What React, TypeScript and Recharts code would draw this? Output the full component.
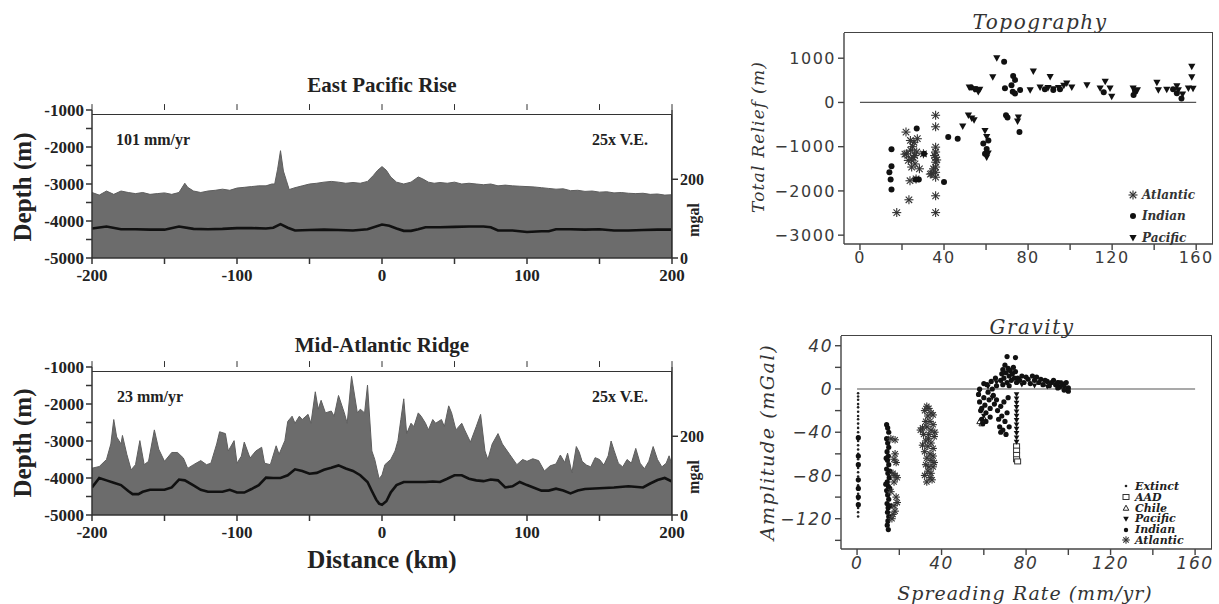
import React from "react";
import {
  Area,
  ComposedChart,
  Line,
  ReferenceLine,
  Scatter,
  ScatterChart,
  XAxis,
  YAxis,
} from "recharts";

// ---- East Pacific Rise profile (km, m) ----
const eprDist = [
  -200, -195, -190, -185, -180, -175, -170, -165, -160, -155, -150, -145, -140, -136, -134, -130, -125, -120, -115,
  -110, -105, -100, -95, -90, -85, -80, -76, -74, -72, -70, -68, -66, -64, -60, -55, -50, -45, -40, -35, -30, -25,
  -20, -15, -10, -6, -3, 0, 3, 6, 10, 15, 20, 25, 28, 32, 36, 40, 45, 50, 55, 60, 65, 70, 75, 80, 85, 90, 95, 100,
  105, 110, 115, 120, 125, 130, 135, 140, 145, 150, 155, 160, 165, 170, 175, 180, 185, 190, 195, 200,
];
const eprDepth = [
  -3230, -3300, -3190, -3280, -3190, -3230, -3260, -3230, -3280, -3260, -3240, -3280, -3230, -2980, -3090, -3190,
  -3230, -3190, -3170, -3140, -3170, -3110, -3090, -3070, -3050, -3050, -3000, -3000, -2600, -2100, -2650, -2900,
  -3150, -3100, -3050, -3000, -2980, -2950, -2930, -2950, -2980, -2960, -2980, -2930, -2770, -2630, -2530, -2630,
  -2810, -2950, -3000, -2950, -2810, -2860, -2950, -2980, -2960, -2980, -2950, -3000, -2980, -3000, -3020, -3000,
  -3050, -3030, -3050, -3060, -3070, -3080, -3100, -3120, -3140, -3130, -3180, -3170, -3200, -3190, -3220, -3210,
  -3240, -3230, -3250, -3260, -3250, -3280, -3270, -3300, -3290,
];
// gravity line (mgal, right axis)
const eprGravDist = [
  -200, -190, -180, -170, -160, -150, -140, -130, -120, -110, -100, -90, -80, -75, -70, -65, -60, -50, -40, -30, -20,
  -10, 0, 5, 10, 15, 20, 25, 30, 40, 50, 60, 70, 75, 80, 90, 100, 110, 115, 120, 130, 140, 150, 160, 170, 180, 190,
  200,
];
const eprGrav = [
  75, 80, 73, 73, 72, 72, 80, 74, 73, 74, 76, 76, 75, 77, 86, 77, 70, 71, 72, 71, 70, 73, 85, 82, 75, 69, 69, 73, 78,
  78, 79, 80, 80, 78, 70, 70, 66, 68, 68, 73, 73, 72, 73, 70, 70, 71, 72, 72,
];

// ---- Mid-Atlantic Ridge profile ----
const marDist = [
  -200, -195, -190, -187, -185, -183, -180, -179, -176, -173, -170, -167, -164, -161, -157, -154, -150, -145, -141,
  -137, -134, -130, -125, -121, -118, -114, -112, -108, -106, -102, -100, -97, -95, -91, -87, -83, -81, -77, -73,
  -71, -67, -65, -62, -60, -57, -55, -51, -49, -46, -44, -42, -39, -35, -33, -30, -26, -24, -21, -17, -15, -12, -10,
  -7, -5, -2, 0, 2, 6, 9, 11, 13, 15, 17, 20, 22, 25, 27, 30, 32, 35, 37, 41, 43, 46, 48, 51, 55, 57, 61, 65, 68, 71,
  73, 76, 80, 83, 88, 93, 97, 100, 104, 108, 112, 116, 120, 123, 126, 128, 131, 134, 136, 138, 141, 144, 147, 150,
  153, 156, 158, 160, 163, 166, 169, 172, 175, 178, 181, 184, 187, 190, 193, 196, 198, 200,
];
const marDepth = [
  -3735, -3690, -3500, -3080, -2420, -2890, -3080, -2850, -3360, -3780, -3640, -2990, -3640, -3550, -2700, -3220,
  -3550, -3310, -3310, -3460, -3740, -3640, -3530, -3640, -3600, -3080, -2750, -2800, -3270, -2990, -3600, -3410,
  -3030, -3460, -3270, -3170, -3600, -3640, -3130, -3360, -2990, -2470, -2330, -2520, -2330, -2420, -2280, -2520,
  -1670, -2140, -1900, -2240, -2190, -2330, -1770, -2240, -2520, -1250, -2240, -2140, -2240, -1490, -3270, -3500,
  -4020, -3920, -3640, -3500, -3270, -2990, -2420, -1860, -2800, -2520, -2610, -2240, -2330, -2520, -2700, -2420,
  -2520, -2420, -2610, -2050, -2240, -2700, -2520, -2700, -3030, -2610, -2280, -3270, -3500, -3080, -2800, -3080,
  -3360, -3640, -3500, -3550, -3480, -3530, -3810, -3670, -3620, -3380, -3580, -3330, -3860, -3150, -3300, -3550,
  -3650, -3700, -3450, -3500, -3650, -3400, -3000, -3250, -3600, -3700, -3500, -3600, -3200, -3600, -3750, -3550,
  -3150, -3500, -3700, -3600, -3400, -3650,
];
const marGravDist = [
  -200, -195, -190, -185, -180, -175, -172, -168, -165, -160, -150, -145, -140, -136, -130, -125, -120, -110, -105,
  -100, -95, -90, -85, -80, -75, -70, -65, -60, -55, -50, -45, -40, -35, -30, -25, -20, -15, -10, -7, -4, -2, 0, 3,
  6, 10, 15, 20, 30, 35, 40, 45, 50, 55, 60, 65, 70, 75, 80, 85, 90, 95, 100, 110, 115, 120, 125, 130, 135, 140, 150,
  160, 170, 180, 185, 190, 195, 200,
];
const marGrav = [
  70, 94, 88, 82, 76, 61, 53, 53, 59, 64, 64, 70, 90, 88, 75, 64, 59, 59, 64, 57, 57, 66, 76, 95, 94, 94, 101, 116,
  112, 105, 107, 115, 120, 126, 118, 112, 101, 84, 61, 39, 29, 26, 35, 57, 76, 84, 84, 84, 85, 84, 92, 101, 101, 92,
  88, 86, 90, 88, 70, 73, 84, 76, 62, 62, 67, 62, 55, 62, 66, 68, 70, 73, 70, 80, 89, 94, 85,
];

// ---- Topography vs spreading rate (mm/yr, m) ----
const topoAtlantic: [number, number][] = [
  [17.5, -2490], [23.3, -2200], [21.9, -670], [24, -860], [25.7, -900], [27.3, -820], [22.2, -1160], [24.1, -1080],
  [25.4, -1240], [27, -1120], [23, -1310], [26.2, -1390], [24.6, -1460], [28.3, -1500], [23.8, -1770], [26.7, -1730],
  [21.4, -1170], [25, -1000], [26, -1200], [24.5, -1300], [30.2, -1160], [36, -290], [36, -550], [36, -1010],
  [36, -1120], [36, -1240], [36, -1350], [36, -1460], [36, -1580], [36, -1690], [36, -2110], [36, -2490],
  [34.1, -1610], [35, -1500], [36.5, -1300], [35.5, -1200], [33.5, -1620],
];
const topoIndian: [number, number][] = [
  [15, -1060], [15, -1440], [14, -1580], [14.6, -1740], [15, -1970], [27, -590], [28, -1740], [26.5, -1740],
  [30.5, -1160], [40, -1800], [42, -780], [46.5, -820], [52.9, 340], [55, 300], [58.7, -930], [60.3, -1050],
  [61.1, -860], [59.5, -1160], [68.6, 920], [69, 320], [69.5, -290], [70.2, -340], [72.9, 600], [73.8, 510],
  [72.1, 390], [72.7, 240], [73.8, 200], [76.2, 280], [75.9, -670], [88, 300], [92, 280], [95.2, 300], [116, 230],
  [130.2, 170], [131, 250], [150.8, 210], [153, 90], [149, 300],
];
const topoPacific: [number, number][] = [
  [48.9, -540], [51.6, -290], [53.2, -360], [54.3, -400], [52, 340], [54.5, 300], [56.3, 240], [57, 290],
  [59.5, -640], [60.3, -780], [60.3, -1240], [61, -1150], [63.2, 570], [65.1, 1000], [75.4, -340], [75, -430],
  [82.5, 700], [81, 280], [85.7, 340], [90.5, 580], [89.5, 330], [92, 300], [94.5, 330], [97, 380], [98.4, 430],
  [100.8, 340], [108, 390], [114.3, 320], [116.7, 470], [119, 320], [119.8, 130], [130, 320], [131, 220], [132, 280],
  [141.3, 450], [142, 280], [146, 290], [150.8, 370], [151.5, 280], [153.5, 180], [156.3, 320], [157.9, 810],
  [157.9, 570], [158.5, 310],
];

// ---- Gravity vs spreading rate (mm/yr, mGal) ----
const gravExtinct: [number, number][] = [
  [0.5, -4], [0.5, -7], [0.5, -10], [0.5, -14], [0.5, -17], [0.5, -21], [0.5, -25], [0.5, -28], [0.5, -32],
  [0.5, -36], [0.5, -40], [0.5, -44], [0.5, -48], [0.5, -52], [0.5, -56], [0.5, -60], [0.5, -65], [0.5, -69],
  [0.5, -73], [0.5, -77], [0.5, -81], [0.5, -85], [0.5, -89], [0.5, -93], [0.5, -97], [0.5, -102], [0.5, -106],
  [0.5, -110], [0.5, -114], [0.5, -118],
];
const gravAAD: [number, number][] = [[75.5, -53], [75.5, -57], [75.5, -61], [75.5, -65], [76, -67]];
const gravChile: [number, number][] = [[58, -30], [59, -32], [60, -27]];
const gravPacific: [number, number][] = [
  [75.5, -5], [75.5, -9], [75.5, -13], [75.5, -17], [75.5, -21], [75.5, -25], [75.5, -29], [75.5, -33],
  [75.5, -37], [75.5, -41], [75.5, -45], [75.5, -49], [58, -2], [60, -25], [62, 2], [64, -8], [66, 6], [78, 4],
  [84, 3], [90, 2], [96, 6],
];
const gravIndian: [number, number][] = [
  [0.6, -45], [0.6, -62], [0.6, -70], [0.6, -84], [0.6, -92], [0.6, -100], [0.6, -107],
  [14, -33], [14.5, -36], [15, -40], [14, -46], [14.5, -50], [15, -54], [14.2, -58], [14.8, -62], [14.4, -66],
  [15, -70], [14, -74], [14.6, -78], [15.2, -82], [14.3, -86], [14.8, -90], [14, -94], [14.5, -98], [15, -102],
  [14.2, -106], [14.7, -110], [14.4, -114], [15, -118], [14.6, -122], [14.3, -126], [14.8, -130], [15.5, -76],
  [15.5, -92], [13.6, -88], [13.8, -64], [15.6, -108],
  [57.5, -5], [58, -12], [58.5, -20], [59, -28], [59.5, -32], [58, 0], [60, -8], [60.5, -15], [61, -22], [61.5, 4],
  [62, -3], [62.5, -10], [63, -18], [63.5, 7], [64, 0], [64.5, -6], [65, -14], [65.5, 10], [66, 3], [60, 5],
  [59, -18], [63, -26], [61, -30],
  [66.5, -20], [67, -28], [67.5, -35], [68, -16], [68.5, -25], [69, -38], [69.5, -12], [70, -30], [70.5, -42],
  [71, -22], [71.5, -8], [72, -35], [66, -10], [68, -40],
  [68, 8], [68.5, 14], [69, 18], [69.5, 10], [70, 22], [70.5, 15], [71, 6], [71.5, 19], [72, 12], [72.5, 17],
  [73, 8], [73.5, 14], [74, 20], [74.5, 10], [75, 16], [75.5, 6], [71, 30], [75, 29], [69, 4], [72, 3],
  [76, 10], [77, 8], [78, 12], [79, 6], [80, 11], [81, 9], [82, 5], [83, 12], [84, 8], [85, 11], [86, 6], [87, 9],
  [88, 4], [89, 8], [90, 7], [91, 3], [92, 6], [93, 8], [94, 4], [95, 6], [96, 2], [97, 5], [98, 3], [99, 6],
  [100, 1], [100, -2], [98, -1], [95, 1],
];
const gravAtlantic: [number, number][] = [
  [16, -46], [18, -47], [18, -60], [17.5, -65], [18.5, -68], [17, -78], [18, -80], [19, -82], [17.5, -86],
  [18.5, -100], [19, -105], [17.5, -108], [18, -113], [17, -116], [16.5, -120], [16, -95],
  [30, -38], [31, -36], [32, -20], [33, -16], [34, -18], [35, -22], [36, -24], [33.5, -25], [32.5, -30], [34.5, -30],
  [36, -33], [33, -35], [35, -38], [31.5, -42], [34, -42], [36.5, -44], [32.5, -48], [35, -50], [33.5, -53],
  [36, -55], [32, -58], [34.5, -60], [36, -62], [33, -64], [35, -66], [32.5, -70], [34, -72], [36, -72],
  [33.5, -76], [35, -78], [32, -80], [34.5, -82], [33, -86], [35.5, -84], [36.5, -68], [31, -52], [36.8, -40],
  [33.8, -46],
];

const profileTicks = [-200, -150, -100, -50, 0, 50, 100, 150, 200];
const depthTicks = [-5000, -4500, -4000, -3500, -3000, -2500, -2000, -1500, -1000];
const rateTicks = [0, 20, 40, 60, 80, 100, 120, 140, 160];
const reliefTicks = [-3000, -2000, -1000, 0, 1000];
const ampTicks = [-140, -120, -100, -80, -60, -40, -20, 0, 20, 40];

const mergeProfile = (d: number[], z: number[], gd: number[], g: number[]) => {
  const rows = new Map<number, any>();
  d.forEach((x, i) => rows.set(x, { x, depth: z[i] }));
  gd.forEach((x, i) => {
    const r = rows.get(x) || { x };
    r.grav = g[i];
    rows.set(x, r);
  });
  return [...rows.values()].sort((a, b) => a.x - b.x);
};
const toPts = (a: [number, number][]) => a.map(([x, y]) => ({ x, y }));

const serif = "'Liberation Serif', 'Times New Roman', serif";
const hershey = "'DejaVu Serif', serif";
const numFont = "'DejaVu Sans', sans-serif";

// ---- markers ----
const Star = ({ cx, cy, r = 4 }: any) => {
  const d = r * 0.72;
  return (
    <g stroke="#333" strokeWidth={1.1}>
      <line x1={cx - r} y1={cy} x2={cx + r} y2={cy} />
      <line x1={cx} y1={cy - r} x2={cx} y2={cy + r} />
      <line x1={cx - d} y1={cy - d} x2={cx + d} y2={cy + d} />
      <line x1={cx - d} y1={cy + d} x2={cx + d} y2={cy - d} />
    </g>
  );
};
const Dot = ({ cx, cy, r = 3 }: any) => <circle cx={cx} cy={cy} r={r} fill="#111" />;
const TriDown = ({ cx, cy, r = 3.6 }: any) => (
  <path d={`M${cx - r},${cy - r * 0.8} L${cx + r},${cy - r * 0.8} L${cx},${cy + r} Z`} fill="#111" />
);
const TriUp = ({ cx, cy, r = 2.8 }: any) => (
  <path d={`M${cx - r},${cy + r * 0.8} L${cx + r},${cy + r * 0.8} L${cx},${cy - r} Z`} fill="none" stroke="#222" />
);
const Square = ({ cx, cy }: any) => (
  <rect x={cx - 3} y={cy - 2.5} width={6} height={5} fill="#fff" stroke="#333" strokeWidth={1} />
);
const Tiny = ({ cx, cy }: any) => <circle cx={cx} cy={cy} r={1.3} fill="#222" />;

const minus = (v: number) => (v < 0 ? "\u2212" + Math.abs(v) : String(v));

const Txt = ({ x, y, children, style, rotate }: any) => (
  <div
    style={{
      position: "absolute",
      left: x,
      top: y,
      transform: `translate(-50%, -50%)${rotate ? " rotate(-90deg)" : ""}`,
      whiteSpace: "nowrap",
      lineHeight: 1,
      ...style,
    }}
  >
    {children}
  </div>
);

// top + right border of a plot box
const Frame = ({ left, top, width, height, color }: any) => (
  <div
    style={{
      position: "absolute",
      left,
      top: top - 1,
      width: width - 1,
      height,
      borderTop: `1.5px solid ${color}`,
      borderRight: `1.5px solid ${color}`,
      pointerEvents: "none",
    }}
  />
);

const boldStyle = { fontFamily: serif, fontWeight: 700, color: "#222" };
const italicStyle = { fontFamily: hershey, fontStyle: "italic", color: "#333" };

const ProfilePanel = ({ top, height, data, mtop, mbottom }: any) => {
  const tickStyle = { fontFamily: serif, fontWeight: 700, fontSize: 17, fill: "#222" };
  return (
    <div style={{ position: "absolute", left: 0, top }}>
      <ComposedChart
        width={720}
        height={height}
        data={data}
        margin={{ top: mtop, right: 8, bottom: mbottom, left: 12 }}
      >
        <XAxis
          type="number"
          dataKey="x"
          domain={[-200, 200]}
          ticks={profileTicks}
          tickFormatter={(v: number) => (v % 100 === 0 ? String(v) : "")}
          tick={tickStyle}
          tickMargin={5}
          stroke="#333"
          strokeWidth={1.5}
          height={30}
          allowDataOverflow
        />
        <YAxis
          yAxisId="left"
          type="number"
          domain={[-5000, -1000]}
          ticks={depthTicks}
          tickFormatter={(v: number) => (v % 1000 === 0 ? String(v) : "")}
          tick={tickStyle}
          stroke="#333"
          strokeWidth={1.5}
          width={80}
          allowDataOverflow
        />
        <YAxis
          yAxisId="right"
          orientation="right"
          type="number"
          domain={[0, 376]}
          ticks={[0, 200]}
          tick={{ ...tickStyle, fontSize: 16 }}
          stroke="#333"
          strokeWidth={1.5}
          width={40}
          allowDataOverflow
        />
        <Area
          yAxisId="left"
          dataKey="depth"
          type="linear"
          baseValue={-5000}
          fill="#6c6c6c"
          fillOpacity={1}
          stroke="#5e5e5e"
          strokeWidth={1}
          connectNulls
          isAnimationActive={false}
        />
        <Line
          yAxisId="right"
          dataKey="grav"
          type="linear"
          stroke="#111"
          strokeWidth={2.6}
          dot={false}
          connectNulls
          isAnimationActive={false}
        />
        {profileTicks.map((t) => (
          <ReferenceLine
            key={t}
            yAxisId="left"
            segment={[{ x: t, y: -1000 }, { x: t, y: -840 }]}
            stroke="#333"
            strokeWidth={1}
            ifOverflow="visible"
          />
        ))}
      </ComposedChart>
    </div>
  );
};

const LegendRow = ({ Icon, label, size }: any) => (
  <div style={{ display: "flex", alignItems: "center", height: size + 0.5 }}>
    <svg width={12} height={12} style={{ marginRight: 3 }}>
      <Icon cx={6} cy={6} />
    </svg>
    <span>{label}</span>
  </div>
);

export default function App() {
  const eprRows = mergeProfile(eprDist, eprDepth, eprGravDist, eprGrav);
  const marRows = mergeProfile(marDist, marDepth, marGravDist, marGrav);
  const rTick = { fontFamily: numFont, fontSize: 16, fill: "#3a3a3a", letterSpacing: 1.5 };
  const gTick = { ...rTick, fontStyle: "italic", fontSize: 17 };
  const topoX = [-7.6, 168];
  const topoY = [-3200, 1570];
  const gravY = [-148, 49];

  return (
    <div
      style={{
        position: "absolute",
        left: 0,
        top: 0,
        width: 1219,
        height: 604,
        background: "#fff",
        overflow: "hidden",
      }}
    >
      <ProfilePanel top={60} height={240} data={eprRows} mtop={50} mbottom={12} />
      <ProfilePanel top={320} height={270} data={marRows} mtop={47} mbottom={45} />
      <Frame left={92} top={115} width={580} height={143} color="#333" />
      <Frame left={92} top={372} width={580} height={143} color="#333" />

      <Txt x={382} y={85} style={{ ...boldStyle, fontSize: 21 }}>East Pacific Rise</Txt>
      <Txt x={382} y={345} style={{ ...boldStyle, fontSize: 21 }}>Mid-Atlantic Ridge</Txt>
      <Txt x={22} y={187} rotate style={{ ...boldStyle, fontSize: 25 }}>Depth (m)</Txt>
      <Txt x={22} y={443} rotate style={{ ...boldStyle, fontSize: 25 }}>Depth (m)</Txt>
      <Txt x={694} y={220} rotate style={{ ...boldStyle, fontSize: 16 }}>mgal</Txt>
      <Txt x={694} y={477} rotate style={{ ...boldStyle, fontSize: 16 }}>mgal</Txt>
      <Txt x={153} y={140} style={{ ...boldStyle, fontSize: 16 }}>101 mm/yr</Txt>
      <Txt x={620} y={140} style={{ ...boldStyle, fontSize: 16 }}>25x V.E.</Txt>
      <Txt x={150} y={397} style={{ ...boldStyle, fontSize: 16 }}>23 mm/yr</Txt>
      <Txt x={620} y={397} style={{ ...boldStyle, fontSize: 16 }}>25x V.E.</Txt>
      <Txt x={382} y={559} style={{ ...boldStyle, fontSize: 25 }}>Distance (km)</Txt>

      {/* Topography */}
      <div style={{ position: "absolute", left: 740, top: 0 }}>
        <ScatterChart width={477} height={280} margin={{ top: 33, right: 4, bottom: 6, left: 14 }}>
          <XAxis
            type="number"
            dataKey="x"
            domain={topoX}
            ticks={rateTicks}
            tickFormatter={(v: number) => (v % 40 === 0 ? String(v) : "")}
            tick={rTick}
            stroke="#444"
            strokeWidth={1.4}
            height={30}
            allowDataOverflow
          />
          <YAxis
            type="number"
            dataKey="y"
            domain={topoY}
            ticks={reliefTicks}
            tickFormatter={minus}
            tick={rTick}
            stroke="#444"
            strokeWidth={1.4}
            width={90}
            allowDataOverflow
          />
          <ReferenceLine segment={[{ x: 0, y: 0 }, { x: 160, y: 0 }]} stroke="#555" strokeWidth={1.2} />
          <Scatter data={toPts(topoAtlantic)} shape={(p: any) => <Star cx={p.cx} cy={p.cy} r={4.5} />} isAnimationActive={false} />
          <Scatter data={toPts(topoIndian)} shape={(p: any) => <Dot cx={p.cx} cy={p.cy} />} isAnimationActive={false} />
          <Scatter data={toPts(topoPacific)} shape={(p: any) => <TriDown cx={p.cx} cy={p.cy} />} isAnimationActive={false} />
        </ScatterChart>
      </div>
      <Frame left={844} top={33} width={369} height={211} color="#444" />
      <Txt x={1040} y={22} style={{ ...italicStyle, fontSize: 20, letterSpacing: 1.5 }}>Topography</Txt>
      <Txt x={758} y={137} rotate style={{ ...italicStyle, fontSize: 17, letterSpacing: 1.2 }}>Total Relief (m)</Txt>
      <div style={{ position: "absolute", left: 1127, top: 184, ...italicStyle, fontSize: 12, fontWeight: 700 }}>
        <LegendRow Icon={(p: any) => <Star {...p} r={4.5} />} label="Atlantic" size={21} />
        <LegendRow Icon={Dot} label="Indian" size={21} />
        <LegendRow Icon={TriDown} label="Pacific" size={21} />
      </div>

      {/* Gravity */}
      <div style={{ position: "absolute", left: 740, top: 300 }}>
        <ScatterChart width={476} height={304} margin={{ top: 36, right: 4, bottom: 25, left: 11 }}>
          <XAxis
            type="number"
            dataKey="x"
            domain={topoX}
            ticks={rateTicks}
            tickFormatter={(v: number) => (v % 40 === 0 ? String(v) : "")}
            tick={gTick}
            stroke="#444"
            strokeWidth={1.4}
            height={30}
            allowDataOverflow
          />
          <YAxis
            type="number"
            dataKey="y"
            domain={gravY}
            ticks={ampTicks}
            tickFormatter={(v: number) => (v % 40 === 0 ? minus(v) : "")}
            tick={gTick}
            stroke="#444"
            strokeWidth={1.4}
            width={90}
            allowDataOverflow
          />
          <ReferenceLine segment={[{ x: 0, y: 0 }, { x: 160, y: 0 }]} stroke="#555" strokeWidth={1.2} />
          <Scatter data={toPts(gravExtinct)} shape={(p: any) => <Tiny cx={p.cx} cy={p.cy} />} isAnimationActive={false} />
          <Scatter data={toPts(gravAAD)} shape={(p: any) => <Square cx={p.cx} cy={p.cy} />} isAnimationActive={false} />
          <Scatter data={toPts(gravChile)} shape={(p: any) => <TriUp cx={p.cx} cy={p.cy} />} isAnimationActive={false} />
          <Scatter data={toPts(gravPacific)} shape={(p: any) => <TriDown cx={p.cx} cy={p.cy} r={2.8} />} isAnimationActive={false} />
          <Scatter data={toPts(gravIndian)} shape={(p: any) => <Dot cx={p.cx} cy={p.cy} r={2.6} />} isAnimationActive={false} />
          <Scatter data={toPts(gravAtlantic)} shape={(p: any) => <Star cx={p.cx} cy={p.cy} r={3.8} />} isAnimationActive={false} />
        </ScatterChart>
      </div>
      <Frame left={841} top={336} width={371} height={213} color="#444" />
      <Txt x={1032} y={327} style={{ ...italicStyle, fontSize: 20, letterSpacing: 1.5 }}>Gravity</Txt>
      <Txt x={767} y={442} rotate style={{ ...italicStyle, fontSize: 19, letterSpacing: 1.6 }}>Amplitude (mGal)</Txt>
      <Txt x={1025} y={593} style={{ ...italicStyle, fontSize: 19, letterSpacing: 1 }}>Spreading Rate (mm/yr)</Txt>
      <div style={{ position: "absolute", left: 1120, top: 481, ...italicStyle, fontSize: 11, fontWeight: 700, color: "#222" }}>
        <LegendRow Icon={Tiny} label="Extinct" size={10.3} />
        <LegendRow Icon={Square} label="AAD" size={10.3} />
        <LegendRow Icon={TriUp} label="Chile" size={10.3} />
        <LegendRow Icon={(p: any) => <TriDown {...p} r={2.8} />} label="Pacific" size={10.3} />
        <LegendRow Icon={(p: any) => <Dot {...p} r={2.2} />} label="Indian" size={10.3} />
        <LegendRow Icon={(p: any) => <Star {...p} r={3.8} />} label="Atlantic" size={10.3} />
      </div>
    </div>
  );
}
